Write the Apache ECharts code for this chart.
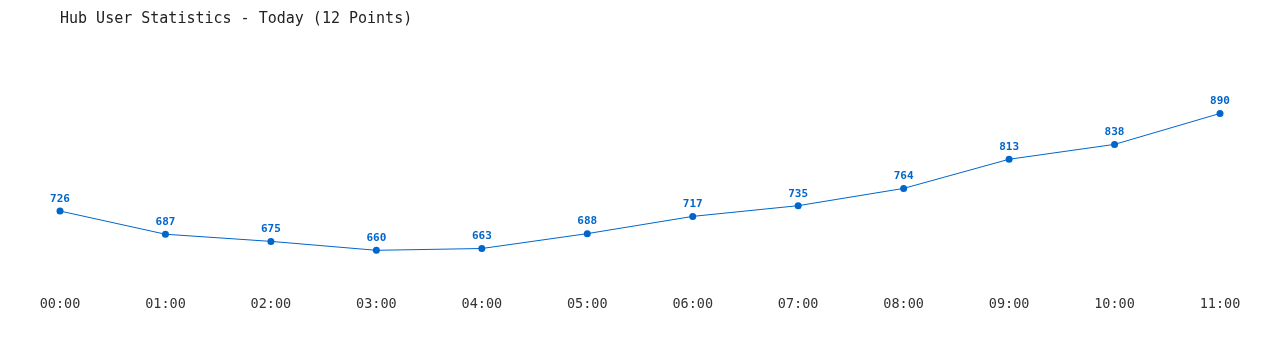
<!DOCTYPE html>
<html>
<head>
<meta charset="utf-8">
<script src="https://cdn.jsdelivr.net/npm/echarts@6/dist/echarts.min.js"></script>
<style>html,body{margin:0;padding:0;background:#fff;}#chart{width:1280px;height:350px;}</style>
</head>
<body>
<div id="chart"></div>
<script>
const categories = ["00:00","01:00","02:00","03:00","04:00","05:00","06:00","07:00","08:00","09:00","10:00","11:00"];
const users = [726, 687, 675, 660, 663, 688, 717, 735, 764, 813, 838, 890];
const titleText = "Hub User Statistics - Today (12 Points)";
const mono = '"DejaVu Sans Mono", "Liberation Mono", monospace';

const chart = echarts.init(document.getElementById('chart'));
chart.setOption({
  backgroundColor: '#fff',
  animation: false,
  title: {
    text: titleText,
    left: 55, top: 7,
    textStyle: { fontFamily: mono, fontSize: 15, fontWeight: 'normal', color: '#222' }
  },
  grid: { left: 60, right: 60, top: 48, bottom: 64 },
  xAxis: {
    type: 'category',
    data: categories,
    boundaryGap: false,
    axisLine: { show: false },
    axisTick: { show: false },
    axisLabel: { fontFamily: mono, fontSize: 13.5, color: '#333', margin: 11 }
  },
  yAxis: {
    type: 'value',
    min: 600, max: 1000,
    show: false,
    splitLine: { show: false }
  },
  series: [{
    type: 'line',
    data: users,
    symbol: 'circle',
    symbolSize: 7,
    itemStyle: { color: '#0066cc' },
    lineStyle: { color: '#0066cc', width: 1 },
    label: {
      show: true, position: 'top', distance: 3,
      fontFamily: mono, fontSize: 11, fontWeight: 'bold', color: '#0066cc'
    }
  }]
});
</script>
</body>
</html>
